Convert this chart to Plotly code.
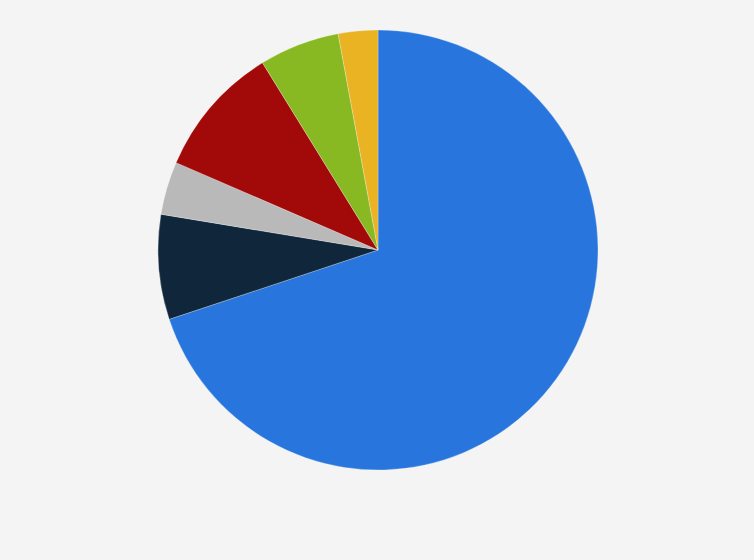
import plotly.graph_objects as go

# slice labels and shares (%), clockwise from 12 o'clock
labels = ["Blue", "Navy", "Gray", "Red", "Green", "Yellow"]
values = [69.9, 7.7, 3.9, 9.7, 5.9, 2.9]
colors = ["#2876dd", "#10263b", "#b9b9b9", "#a20a0a", "#88b923", "#e9b323"]

fig = go.Figure(go.Pie(
    labels=labels, values=values, sort=False, direction="clockwise", rotation=0,
    marker=dict(colors=colors, line=dict(color="rgba(255,255,255,0.5)", width=0.5)),
    textinfo="none", hoverinfo="label+percent",
))
fig.update_layout(
    width=754, height=560, showlegend=False,
    paper_bgcolor="#f4f4f4", plot_bgcolor="#f4f4f4",
    margin=dict(l=158, r=156, t=30, b=90),
)
# drop the default page margin so the figure fills the window
fig.write_html("out.html", config={"displayModeBar": False},
               post_script="document.body.style.margin='0';document.body.style.overflow='hidden';")
